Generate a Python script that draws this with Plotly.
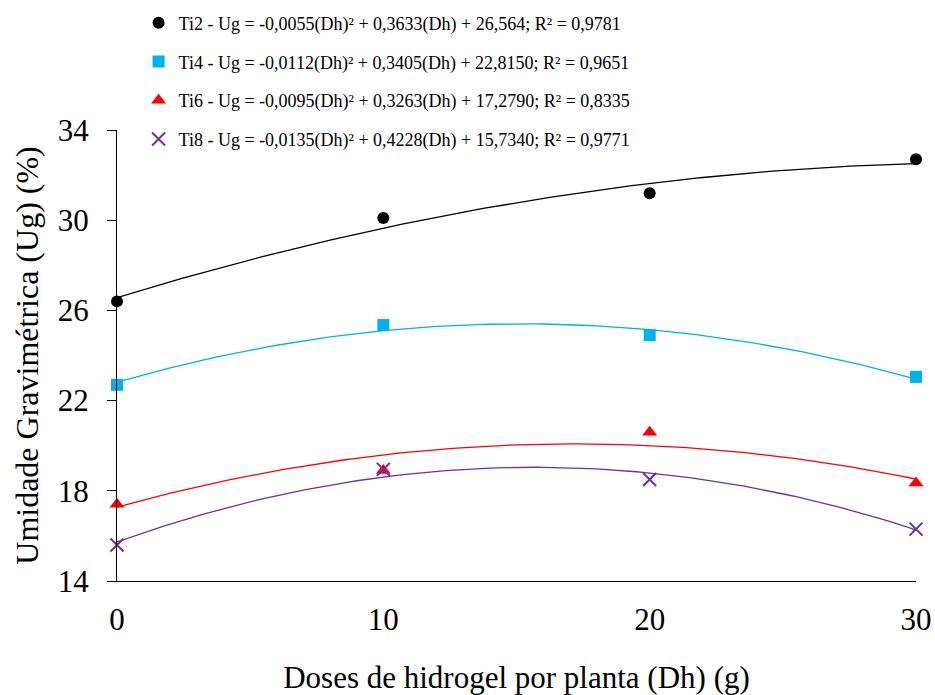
import numpy as np
import plotly.graph_objects as go

doses = [0, 10, 20, 30]
names = ["Ti2", "Ti4", "Ti6", "Ti8"]
ti2 = [26.4, 30.1, 31.2, 32.7]
ti4 = [22.7, 25.35, 24.9, 23.05]
ti6 = [17.4, 18.9, 20.6, 18.35]
ti8 = [15.6, 18.95, 18.5, 16.3]
series = [ti2, ti4, ti6, ti8]
# quadratic trend coefficients (a, b, c) from the legend equations
coefs = [(-0.0055, 0.3633, 26.564), (-0.0112, 0.3405, 22.8150),
         (-0.0095, 0.3263, 17.2790), (-0.0135, 0.4228, 15.7340)]
labels = [
    "Ti2 - Ug = -0,0055(Dh)² + 0,3633(Dh) + 26,564; R² = 0,9781",
    "Ti4 - Ug = -0,0112(Dh)² + 0,3405(Dh) + 22,8150; R² = 0,9651",
    "Ti6 - Ug = -0,0095(Dh)² + 0,3263(Dh) + 17,2790; R² = 0,8335",
    "Ti8 - Ug = -0,0135(Dh)² + 0,4228(Dh) + 15,7340; R² = 0,9771",
]
colors = ["#000000", "#00B0F0", "#FF0000", "#7030A0"]
symbols = ["circle", "square", "triangle-up", "x-thin"]
sizes = [12, 12, 13, 13]

FONT = "Liberation Serif"
fig = go.Figure()
xs = np.linspace(0, 30, 121)
for i in range(4):
    a, b, c = coefs[i]
    fig.add_trace(go.Scatter(x=xs, y=a * xs**2 + b * xs + c, mode="lines",
                             line=dict(color=colors[i], width=1.3),
                             showlegend=False, hoverinfo="skip"))
for i in range(4):
    mk = dict(color=colors[i], size=sizes[i], symbol=symbols[i])
    if symbols[i] == "x-thin":
        mk["line"] = dict(color=colors[i], width=2)
    fig.add_trace(go.Scatter(x=doses, y=series[i], mode="markers", marker=mk,
                             name=labels[i], legendgroup=names[i],
                             cliponaxis=False))

fig.update_layout(
    width=935, height=695,
    margin=dict(l=117, r=19, t=130, b=114, autoexpand=False),
    paper_bgcolor="white", plot_bgcolor="white",
    font=dict(family=FONT, color="black"),
    showlegend=True,
    legend=dict(x=0.027, y=1.278, xanchor="left", yanchor="top",
                font=dict(family=FONT, size=18, color="black"),
                tracegroupgap=12.3, bgcolor="rgba(0,0,0,0)", itemwidth=30),
    xaxis=dict(range=[0, 30], tickvals=[0, 10, 20, 30], showgrid=False,
               zeroline=False, showline=True, linecolor="black", linewidth=1.3,
               ticks="", tickfont=dict(family=FONT, size=31, color="black"),
               ticklabelstandoff=11, automargin=False,
               title=dict(text="Doses de hidrogel por planta (Dh) (g)",
                          font=dict(family=FONT, size=31, color="black"),
                          standoff=33)),
    yaxis=dict(range=[14, 34], tickvals=[14, 18, 22, 26, 30, 34], showgrid=False,
               zeroline=False, showline=True, linecolor="black", linewidth=1.3,
               ticks="outside", ticklen=9, tickcolor="black", tickwidth=1.3,
               tickfont=dict(family=FONT, size=31, color="black"),
               ticklabelstandoff=12, automargin=False,
               title=dict(text="Umidade Gravimétrica (Ug) (%)",
                          font=dict(family=FONT, size=32, color="black"),
                          standoff=9)),
)
fig.write_html("out.html")
